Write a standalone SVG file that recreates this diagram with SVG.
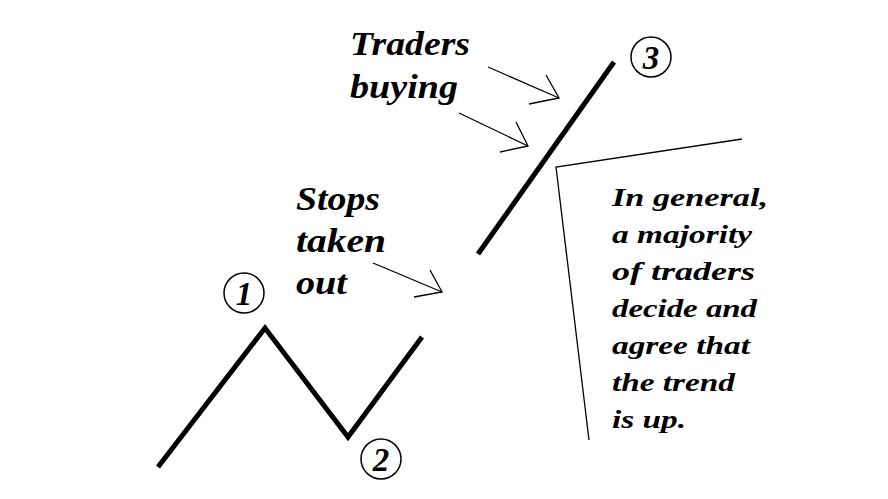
<svg xmlns="http://www.w3.org/2000/svg" width="888" height="499" viewBox="0 0 888 499">
<style>
.t{font-family:"Liberation Serif",serif;font-style:italic;font-weight:bold;fill:#000}
.big{font-size:33px}.sm{font-size:26px}
.thick{stroke:#000;stroke-width:5;fill:none}
.thin{stroke:#000;stroke-width:1.3;fill:none}
.c{fill:none;stroke:#000;stroke-width:1.5}
</style>
<rect width="888" height="499" fill="#fff"/>
<g id="price">
<polyline class="thick" points="158,467 265,328 348,437 422,337"/>
<line class="thick" x1="478" y1="254" x2="614" y2="62"/>
</g>
<g id="n1"><ellipse class="c" cx="244" cy="293" rx="20" ry="20"/><text class="t big" x="244" y="305" text-anchor="middle" font-weight="normal">1</text></g>
<g id="n2"><ellipse class="c" cx="381" cy="459" rx="20" ry="20"/><text class="t big" x="381" y="471" text-anchor="middle">2</text></g>
<g id="n3"><ellipse class="c" cx="651" cy="57" rx="20" ry="20"/><text class="t big" x="651" y="69" text-anchor="middle">3</text></g>
<g id="traders"><text class="t big" x="350" y="55" textLength="120" lengthAdjust="spacingAndGlyphs">Traders</text><text class="t big" x="350" y="98" textLength="108" lengthAdjust="spacingAndGlyphs">buying</text></g>
<g id="stops"><text class="t big" x="296" y="210" textLength="84" lengthAdjust="spacingAndGlyphs">Stops</text><text class="t big" x="296" y="252" textLength="90" lengthAdjust="spacingAndGlyphs">taken</text><text class="t big" x="296" y="294" textLength="51" lengthAdjust="spacingAndGlyphs">out</text></g>
<g id="note" class="t sm">
<text x="612" y="206" textLength="156" lengthAdjust="spacingAndGlyphs">In general,</text>
<text x="612" y="243" textLength="140" lengthAdjust="spacingAndGlyphs">a majority</text>
<text x="612" y="280" textLength="143" lengthAdjust="spacingAndGlyphs">of traders</text>
<text x="612" y="317" textLength="145" lengthAdjust="spacingAndGlyphs">decide and</text>
<text x="612" y="354" textLength="138" lengthAdjust="spacingAndGlyphs">agree that</text>
<text x="612" y="391" textLength="123" lengthAdjust="spacingAndGlyphs">the trend</text>
<text x="612" y="428" textLength="74" lengthAdjust="spacingAndGlyphs">is up.</text>
</g>
<g id="connectors">
<polyline class="thin" points="488,67 559,98"/><polyline class="thin" points="546,75 559,98 529,104"/>
<polyline class="thin" points="459,113 528,146"/><polyline class="thin" points="516,122 528,146 500,152"/>
<polyline class="thin" points="373,263 442,292"/><polyline class="thin" points="430,270 442,292 414,297"/>
<polyline class="thin" points="742,139 556,167 589,440"/>
</g>
</svg>
